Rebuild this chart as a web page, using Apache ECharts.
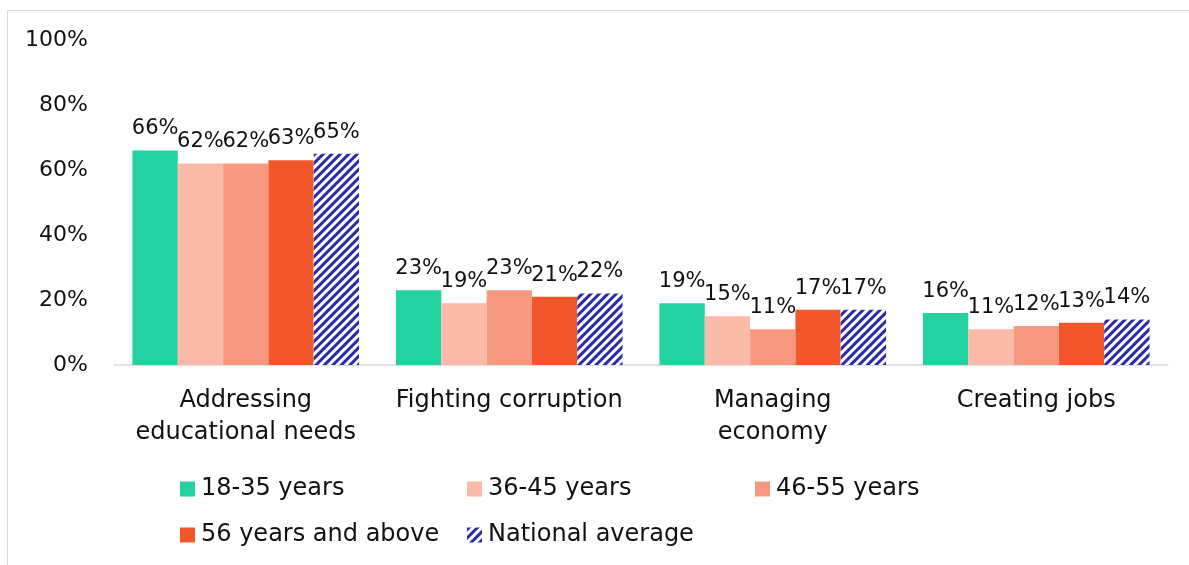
<!DOCTYPE html>
<html>
<head>
<meta charset="utf-8">
<style>
  html, body { margin: 0; padding: 0; background: #fff; }
  #chart { width: 1189px; height: 565px; }
</style>
<script src="https://cdn.jsdelivr.net/npm/echarts@6/dist/echarts.min.js"></script>
</head>
<body>
<div id="chart"></div>
<script>
// Priority areas by age group (share of respondents)
const categories = ['Addressing\neducational needs', 'Fighting corruption', 'Managing\neconomy', 'Creating jobs'];
const seriesNames = ['18-35 years', '36-45 years', '46-55 years', '56 years and above', 'National average'];
const age18to35 = [66, 23, 19, 16];
const age36to45 = [62, 19, 15, 11];
const age46to55 = [62, 23, 11, 12];
const age56plus = [63, 21, 17, 13];
const nationalAvg = [65, 22, 17, 14];
const yTicks = [0, 20, 40, 60, 80, 100];

const FONT = '"DejaVu Sans", "Liberation Sans", sans-serif';
const colors = ['#24D1A1', '#F9BBA8', '#F79881', '#F2572C', '#2B2BA8'];
const values = [age18to35, age36to45, age46to55, age56plus, nationalAvg];

// diagonal navy hatching for the national average bars
const stripe = {
  symbol: 'rect',
  color: '#2B2BA8',
  backgroundColor: '#ffffff',
  dashArrayX: [1, 0],
  dashArrayY: [2.5, 2.2],
  rotation: -Math.PI / 4
};

const series = seriesNames.map((name, i) => ({
  name,
  type: 'bar',
  data: values[i],
  barGap: '0%',
  barCategoryGap: '14%',
  itemStyle: i === 4 ? { color: '#ffffff', decal: stripe } : { color: colors[i] },
  label: {
    show: true,
    position: 'top',
    distance: 11,
    formatter: p => p.value + '%',
    color: '#111',
    fontFamily: FONT,
    fontSize: 21
  }
}));

// legend laid out as a 3-column grid, one legend block per entry
const legendCols = [180, 467, 755];
const legendRows = [477, 523];
const legends = seriesNames.map((name, i) => ({
  data: [name],
  left: legendCols[i % 3],
  top: legendRows[Math.floor(i / 3)],
  padding: 0,
  itemWidth: 15, itemHeight: 15, itemGap: 0,
  icon: 'rect',
  textStyle: { color: '#111', fontFamily: FONT, fontSize: 24, padding: [0, 0, 0, 1] }
}));

const chart = echarts.init(document.getElementById('chart'));
chart.setOption({
  animation: false,
  textStyle: { fontFamily: FONT },
  graphic: [{
    type: 'rect',
    shape: { x: 7.5, y: 10.5, width: 1300, height: 700 },
    style: { fill: 'none', stroke: '#d9d9d9', lineWidth: 1 },
    silent: true,
    z: -10
  }],
  grid: { left: 114, right: 21, top: 40, bottom: 200 },
  legend: legends,
  xAxis: {
    type: 'category',
    data: categories,
    axisLine: { lineStyle: { color: '#d9d9d9', width: 1.5 } },
    axisTick: { show: false },
    axisLabel: {
      color: '#111', fontFamily: FONT, fontSize: 24, lineHeight: 32, margin: 20, interval: 0
    }
  },
  yAxis: {
    type: 'value',
    min: yTicks[0],
    max: yTicks[yTicks.length - 1],
    interval: 20,
    splitLine: { show: false },
    axisLine: { show: false },
    axisTick: { show: false },
    axisLabel: {
      formatter: v => v + '%',
      color: '#111', fontFamily: FONT, fontSize: 22, margin: 26
    }
  },
  series
});
</script>
</body>
</html>
